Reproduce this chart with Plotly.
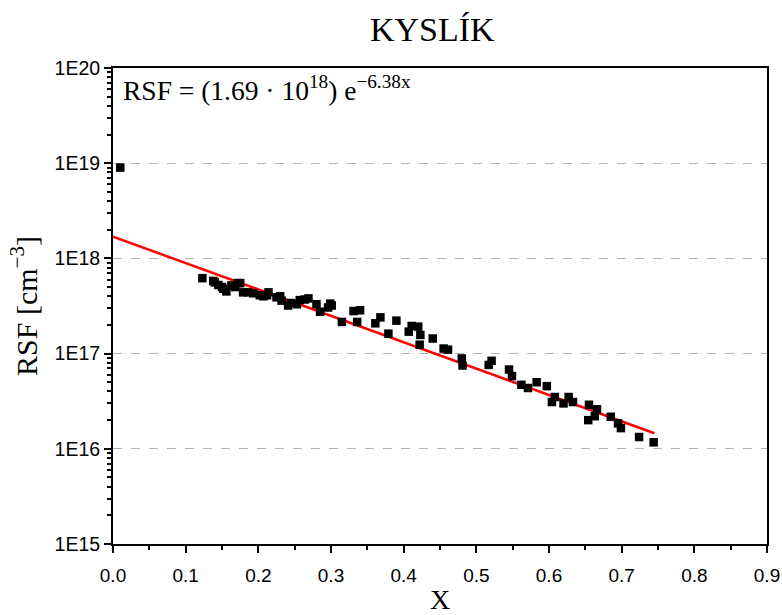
import numpy as np
import plotly.graph_objects as go

# ---- data ----
x_vals = [0.010, 0.123, 0.138, 0.140, 0.145, 0.150, 0.152, 0.156, 0.163, 0.168,
          0.172, 0.175, 0.179, 0.186, 0.193, 0.202, 0.207, 0.212, 0.214, 0.225,
          0.230, 0.232, 0.241, 0.245, 0.253, 0.257, 0.264, 0.269, 0.280, 0.285,
          0.296, 0.299, 0.301, 0.315, 0.331, 0.336, 0.340, 0.361, 0.368, 0.379,
          0.390, 0.407, 0.411, 0.420, 0.423, 0.422, 0.440, 0.455, 0.461, 0.480,
          0.481, 0.517, 0.521, 0.545, 0.549, 0.562, 0.571, 0.583, 0.597, 0.604,
          0.608, 0.620, 0.627, 0.633, 0.654, 0.655, 0.663, 0.666, 0.685, 0.695,
          0.699, 0.724, 0.744]
rsf_vals = [9.0e18, 6.2e17, 5.8e17, 5.6e17, 5.25e17, 5.0e17, 4.8e17, 4.5e17, 5.2e17, 5.0e17,
            5.5e17, 5.5e17, 4.4e17, 4.4e17, 4.3e17, 4.1e17, 4.0e17, 4.1e17, 4.4e17, 3.9e17,
            4.0e17, 3.6e17, 3.2e17, 3.4e17, 3.3e17, 3.65e17, 3.7e17, 3.8e17, 3.3e17, 2.75e17,
            3.05e17, 3.35e17, 3.2e17, 2.15e17, 2.8e17, 2.15e17, 2.85e17, 2.08e17, 2.4e17, 1.62e17,
            2.22e17, 1.7e17, 1.95e17, 1.92e17, 1.57e17, 1.24e17, 1.44e17, 1.13e17, 1.1e17, 8.9e16,
            7.5e16, 7.6e16, 8.4e16, 6.8e16, 5.8e16, 4.7e16, 4.35e16, 5.0e16, 4.55e16, 3.1e16,
            3.5e16, 3.0e16, 3.5e16, 3.1e16, 2.0e16, 2.9e16, 2.2e16, 2.6e16, 2.17e16, 1.85e16,
            1.65e16, 1.33e16, 1.17e16]

fit_A = 1.69e18
fit_b = 6.38
fit_x = [0.0, 0.745]
fit_y = [fit_A * np.exp(-fit_b * xv) for xv in fit_x]

y_tickvals = [1e15, 1e16, 1e17, 1e18, 1e19, 1e20]
y_ticktext = ["1E15", "1E16", "1E17", "1E18", "1E19", "1E20"]
x_tickvals = [0.0, 0.1, 0.2, 0.3, 0.4, 0.5, 0.6, 0.7, 0.8, 0.9]
x_ticktext = ["0.0", "0.1", "0.2", "0.3", "0.4", "0.5", "0.6", "0.7", "0.8", "0.9"]

# minor tick positions (axis decoration)
y_minor = [m * 10.0 ** e for e in range(15, 20) for m in range(2, 10)]
x_minor = [0.05 + 0.1 * i for i in range(9)]

serif = "Liberation Serif, DejaVu Serif, serif"
sans = "Liberation Sans, Arial, sans-serif"

fig = go.Figure()
fig.add_trace(go.Scatter(x=fit_x, y=fit_y, mode="lines",
                         line=dict(color="#ff0000", width=2.5), showlegend=False))
fig.add_trace(go.Scatter(x=x_vals, y=rsf_vals, mode="markers",
                         marker=dict(symbol="square", size=8.5, color="black"),
                         showlegend=False))

fig.update_layout(
    width=782, height=615,
    margin=dict(l=113, r=15, t=68, b=71),
    paper_bgcolor="white", plot_bgcolor="white",
    showlegend=False,
)

fig.update_xaxes(
    range=[0, 0.9], tickmode="array", tickvals=x_tickvals, ticktext=x_ticktext,
    showline=True, linecolor="black", linewidth=2, mirror=True,
    ticks="outside", ticklen=7, tickwidth=2, tickcolor="black",
    minor=dict(tickmode="array", tickvals=x_minor, ticks="outside", ticklen=4,
               tickwidth=2, tickcolor="black", showgrid=False),
    showgrid=False, zeroline=False, automargin=False, ticklabelstandoff=6,
    tickfont=dict(family=sans, size=19, color="black"),
    title=dict(text="X", font=dict(family=serif, size=28, color="black"), standoff=12),
)
fig.update_yaxes(
    type="log", range=[15, 20], tickmode="array", tickvals=y_tickvals, ticktext=y_ticktext,
    showline=True, linecolor="black", linewidth=2, mirror=True,
    ticks="outside", ticklen=7, tickwidth=2, tickcolor="black",
    minor=dict(tickmode="array", tickvals=y_minor, ticks="outside", ticklen=4,
               tickwidth=1.5, tickcolor="black", showgrid=False),
    showgrid=True, gridcolor="#b4b4b4", griddash="dash", gridwidth=1,
    zeroline=False, automargin=False,
    tickfont=dict(family=sans, size=19.5, color="black"),
    title=dict(text="RSF [cm<sup>−3</sup>]", font=dict(family=serif, size=30, color="black"), standoff=8),
)

fig.add_annotation(text="KYSLÍK", xref="paper", yref="paper", x=0.488, y=1.0,
                   yshift=18, xanchor="center", yanchor="bottom", showarrow=False,
                   font=dict(family=serif, size=34, color="black"))
fig.add_annotation(text="RSF = (1.69 · 10<sup>18</sup>) e<sup>−6.38x</sup>",
                   xref="paper", yref="paper", x=0.012, y=0.998,
                   xanchor="left", yanchor="top", showarrow=False,
                   font=dict(family=serif, size=27.5, color="black"))

fig.write_html("out.html")
